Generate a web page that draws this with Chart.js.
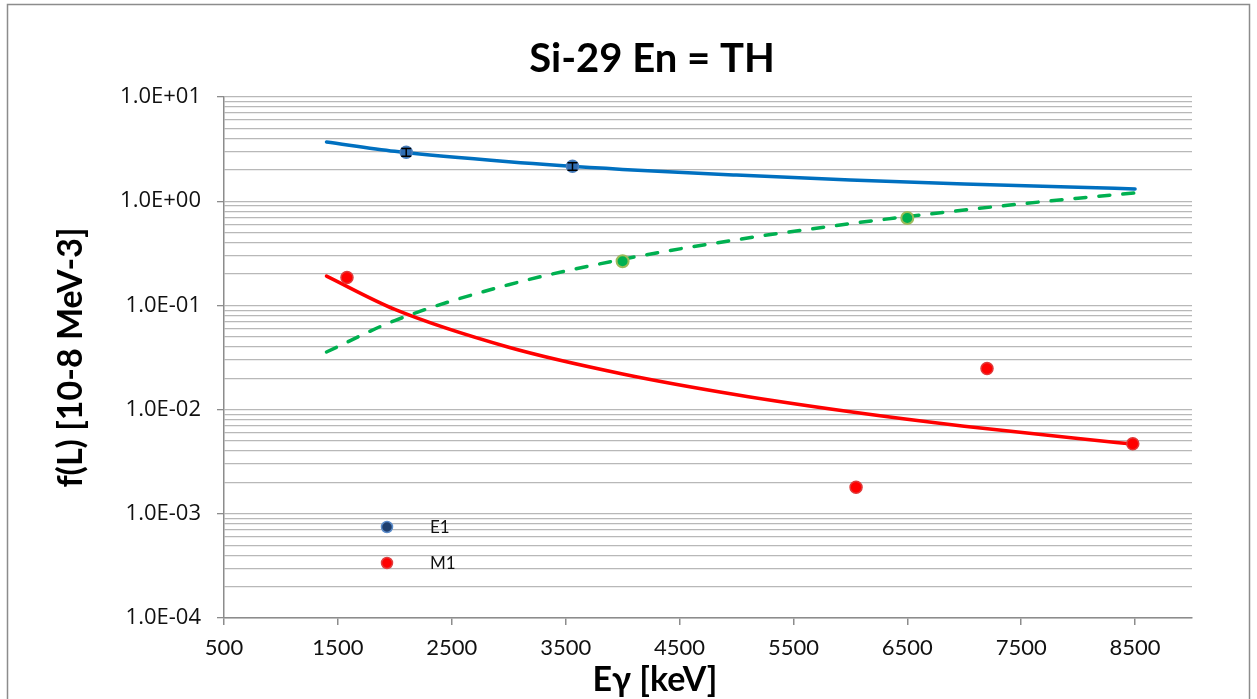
<!DOCTYPE html>
<html>
<head>
<meta charset="utf-8">
<script src="https://cdn.jsdelivr.net/npm/chart.js@4.4.1/dist/chart.umd.min.js"></script>
<style>
  html, body { margin: 0; padding: 0; background: #fff; }
  #wrap { width: 1257px; height: 699px; }
</style>
</head>
<body>
<div id="wrap"><canvas id="chart" width="1257" height="699"></canvas></div>
<script>
// Si-29 En = TH  - f(L) vs E-gamma

// measured points
const e1X = [2100, 3560];
const e1Y = [2.95, 2.16];
const e1Err = [0.25, 0.18];

const m1X = [1580, 6050, 7200, 8480];
const m1Y = [0.185, 0.0018, 0.0248, 0.0047];

const e2X = [4000, 6500];
const e2Y = [0.265, 0.69];

// trend curves
const fitX = [1400, 2000, 3000, 4000, 5000, 6000, 7000, 8000, 8500];
const e1Fit = [3.70, 3.01, 2.39, 2.02, 1.78, 1.60, 1.46, 1.36, 1.31];
const e2Fit = [0.0357, 0.0716, 0.158, 0.277, 0.427, 0.609, 0.823, 1.07, 1.20];
const m1Fit = [0.191, 0.0916, 0.0397, 0.0220, 0.0139, 0.00954, 0.00693, 0.00527, 0.00465];

// axes
const xTicks = [500, 1500, 2500, 3500, 4500, 5500, 6500, 7500, 8500];
const yTicks = [];
[1e-4, 1e-3, 1e-2, 1e-1, 1].forEach(d => {
    for (let k = 1; k <= 9; k++) yTicks.push(+(d * k).toPrecision(3));
});
yTicks.push(10);

const FONT = 'Lato, "Open Sans", sans-serif';

const pts = (xs, ys) => xs.map((x, i) => ({ x: x, y: ys[i] }));

function isDecade(v) {
    const l = Math.log10(v);
    return Math.abs(l - Math.round(l)) < 1e-9;
}

function fmtExp(v) {
    const e = Math.round(Math.log10(v));
    const s = e < 0 ? '-' : '+';
    return '1.0E' + s + String(Math.abs(e)).padStart(2, '0');
}

const frame = {
    id: 'frame',
    beforeDraw(chart) {
        const c = chart.ctx;
        c.save();
        c.fillStyle = '#fff';
        c.fillRect(0, 0, chart.width, chart.height);
        c.strokeStyle = '#8c8c8c';
        c.lineWidth = 1.5;
        c.strokeRect(7.5, 4.5, 1242, 720);
        c.restore();
    },
    afterDraw(chart) {
        // chart title and x-axis title sit a bit left of the plot centre, as in the original
        const c = chart.ctx;
        c.save();
        c.fillStyle = '#000';
        c.textAlign = 'center';
        c.textBaseline = 'middle';
        c.font = 'bold 40px ' + FONT;
        c.fillText('Si-29 En = TH', 652, 59);
        c.font = 'bold 34px ' + FONT;
        c.fillText('Eγ [keV]', 655, 680);
        c.restore();
    }
};

const errorBars = {
    id: 'errorBars',
    afterDatasetsDraw(chart) {
        const c = chart.ctx;
        const xs = chart.scales.x, ys = chart.scales.y;
        c.save();
        c.strokeStyle = '#000';
        c.lineWidth = 1.5;
        e1X.forEach((x, i) => {
            const px = xs.getPixelForValue(x);
            const top = ys.getPixelForValue(e1Y[i] + e1Err[i]);
            const bot = ys.getPixelForValue(e1Y[i] - e1Err[i]);
            c.beginPath();
            c.moveTo(px, top); c.lineTo(px, bot);
            c.moveTo(px - 5, top); c.lineTo(px + 5, top);
            c.moveTo(px - 5, bot); c.lineTo(px + 5, bot);
            c.stroke();
        });
        c.restore();
    }
};

const legendBox = {
    id: 'legendBox',
    afterDraw(chart) {
        const c = chart.ctx;
        const items = [
            { text: 'E1', fill: '#1f3f6e', border: '#5b8bc9', y: 527 },
            { text: 'M1', fill: '#ff0000', border: '#e04040', y: 563 }
        ];
        c.save();
        c.font = '17px ' + FONT;
        c.textBaseline = 'middle';
        items.forEach(it => {
            c.beginPath();
            c.arc(387, it.y, 5.5, 0, Math.PI * 2);
            c.fillStyle = it.fill;
            c.fill();
            c.lineWidth = 1.5;
            c.strokeStyle = it.border;
            c.stroke();
            c.fillStyle = '#111';
            c.fillText(it.text, 430, it.y + 1);
        });
        c.restore();
    }
};

new Chart(document.getElementById('chart'), {
    type: 'scatter',
    data: {
        datasets: [
            {
                label: 'E1',
                data: pts(e1X, e1Y),
                backgroundColor: '#2e6db4',
                borderColor: '#4a7ebb',
                borderWidth: 1.5,
                pointRadius: 6,
                order: 0
            },
            {
                label: 'M1',
                data: pts(m1X, m1Y),
                backgroundColor: '#ff0000',
                borderColor: '#e03a3a',
                borderWidth: 1.5,
                pointRadius: 6,
                order: 0
            },
            {
                label: 'E2',
                data: pts(e2X, e2Y),
                backgroundColor: '#00b050',
                borderColor: '#9bbb59',
                borderWidth: 2,
                pointRadius: 6,
                order: 0
            },
            {
                label: 'E1 fit',
                type: 'line',
                data: pts(fitX, e1Fit),
                borderColor: '#0070c0',
                borderWidth: 3.5,
                borderCapStyle: 'round',
                pointRadius: 0,
                cubicInterpolationMode: 'monotone',
                order: 1
            },
            {
                label: 'E2 fit',
                type: 'line',
                data: pts(fitX, e2Fit),
                borderColor: '#00b050',
                borderWidth: 3.5,
                borderDash: [11, 13],
                borderCapStyle: 'round',
                pointRadius: 0,
                cubicInterpolationMode: 'monotone',
                order: 1
            },
            {
                label: 'M1 fit',
                type: 'line',
                data: pts(fitX, m1Fit),
                borderColor: '#ff0000',
                borderWidth: 3.5,
                borderCapStyle: 'round',
                pointRadius: 0,
                cubicInterpolationMode: 'monotone',
                order: 1
            }
        ]
    },
    options: {
        responsive: false,
        animation: false,
        layout: { padding: { left: 10, right: 65, top: 97, bottom: 0 } },
        plugins: {
            legend: { display: false },
            tooltip: { enabled: false },
            title: { display: false }
        },
        scales: {
            x: {
                type: 'linear',
                min: 500,
                max: 9000,
                afterBuildTicks: s => { s.ticks = xTicks.map(v => ({ value: v })); },
                afterFit: s => { s.height = 81; },
                border: { color: '#8c8c8c', width: 1.5 },
                grid: { drawOnChartArea: false, drawTicks: true, tickLength: 7, tickColor: '#8c8c8c', lineWidth: 1.5 },
                ticks: {
                    color: '#111',
                    padding: 10,
                    maxRotation: 0,
                    font: { family: FONT, size: 22 },
                    callback: v => String(v)
                },
                title: { display: false }
            },
            y: {
                type: 'logarithmic',
                min: 1e-4,
                max: 10,
                afterBuildTicks: s => { s.ticks = yTicks.map(v => ({ value: v, major: isDecade(v) })); },
                afterFit: s => { s.width = 214; },
                border: { color: '#8c8c8c', width: 1.5 },
                grid: {
                    color: '#b8b8b8',
                    lineWidth: 1.3,
                    tickLength: 7,
                    tickColor: ctx => (ctx.tick && isDecade(ctx.tick.value)) ? '#8c8c8c' : 'rgba(0,0,0,0)'
                },
                ticks: {
                    color: '#111',
                    padding: 16,
                    autoSkip: false,
                    font: { family: '"Open Sans", Lato, sans-serif', size: 22 },
                    callback: v => isDecade(v) ? fmtExp(v) : ''
                },
                title: {
                    display: true,
                    text: 'f(L) [10-8 MeV-3]',
                    color: '#000',
                    font: { family: FONT, size: 34, weight: 'bold' },
                    padding: { top: 41, bottom: 0 }
                }
            }
        }
    },
    plugins: [frame, errorBars, legendBox]
});
</script>
</body>
</html>
